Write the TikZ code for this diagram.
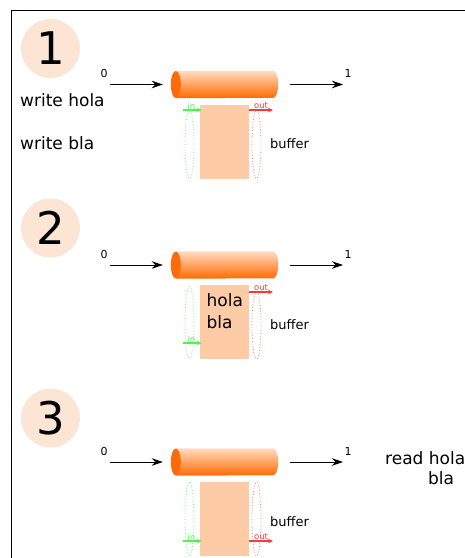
\documentclass[tikz,border=0pt]{standalone}
\usepackage{fontspec}
\setmainfont{DejaVu Sans}
\usetikzlibrary{arrows.meta,positioning}
\definecolor{pbdiscfill}{HTML}{FDE5D5}
\definecolor{pbbuf}     {HTML}{FDCBA5}
\definecolor{pbtop}     {HTML}{FFDCC2}
\definecolor{pbmid}     {HTML}{FFA060}
\definecolor{pbbot}     {HTML}{FF6A00}
\definecolor{pbend}     {HTML}{FF6A0A}
\definecolor{pbin}      {HTML}{4CF54C}
\definecolor{pbout}     {HTML}{FF3838}
\tikzset{
  pbdisc/.style={circle, fill=pbdiscfill, minimum size=59pt, inner sep=0pt,
                 font=\fontsize{45}{50}\selectfont},
  pbpipe/.style={minimum width=107pt, minimum height=27pt, inner sep=0pt},
  pbbuffer/.style={fill=pbbuf, minimum width=49pt, minimum height=74pt, inner sep=0pt},
  pbflow/.style={-{Stealth[length=11pt,width=7.5pt,inset=3.5pt]}, line width=1pt},
  pbinedge/.style={-{Stealth[length=5pt,width=4.5pt]}, draw=pbin, line width=1.2pt},
  pboutedge/.style={-{Stealth[length=5pt,width=4.5pt]}, draw=pbout, line width=1.2pt},
  pbinloop/.style={draw=pbin!80, dotted, line width=0.8pt},
  pboutloop/.style={draw=pbout!70, dotted, line width=0.8pt},
  pbtick/.style={font=\fontsize{11}{13}\selectfont, inner sep=0pt},
  pbtext/.style={font=\fontsize{17}{22}\selectfont, inner sep=0pt, anchor=base west},
  pblabel/.style={font=\fontsize{13}{15}\selectfont, inner sep=0pt, anchor=base west},
  pbtag/.style={font=\fontsize{8.5}{9}\selectfont, inner sep=0.3pt},
}
\begin{document}
\begin{tikzpicture}[x=1pt,y=-1pt]
  \useasboundingbox (0,0) rectangle (465,558);
  \draw[line width=0.8pt] (465,10) -- (11,10) -- (11,558);
  % one panel per step: disc, pipe, buffer, in/out loops
  \foreach \n/\cy/\py/\iy/\oy/\gt/\rt in {1/48.5/84.5/110/110/110/110,
                                          2/228/265/343/292/286/292,
                                          3/418/462/541/541/482/482} {
    \node[pbdisc] (disc\n) at (50.5,\cy) {\n};
    \node[pbpipe] (pipe\n) at (224.5,\py) {};
    \shade[top color=pbtop, middle color=pbmid, bottom color=pbbot]
      ([xshift=5pt]pipe\n.north west) -- ([xshift=-5pt]pipe\n.north east)
      arc[start angle=90, end angle=-90, x radius=5pt, y radius=13.5pt]
      -- ([xshift=5pt]pipe\n.south west) -- cycle;
    \fill[pbend] ([xshift=5pt]pipe\n.west) ellipse[x radius=5pt, y radius=13.5pt];
    \coordinate (src\n) at (110,\py);
    \coordinate (dst\n) at (343,\py);
    \node[pbtick] (zero\n) at (104,\py-11) {0};
    \node[pbtick] (one\n) at (348,\py-11) {1};
    \draw[pbflow] (src\n) -- (pipe\n.west) [shorten >=8pt];
    \draw[pbflow] (pipe\n.east) -- (dst\n) [shorten <=12pt];
    \node[pbbuffer] (buf\n) at (224.5,\py+57) {};
    \node[pblabel] (buflabel\n) at (270,\py+64) {buffer};
    \pgfmathsetmacro\gry{(\py+94-\gt)/2}
    \pgfmathsetmacro\rry{(\py+94-\rt)/2}
    \draw[pbinloop] (189.5,\py+94-\gry) ellipse[x radius=4.5pt, y radius=\gry pt];
    \draw[pboutloop] (256.5,\py+94-\rry) ellipse[x radius=4.5pt, y radius=\rry pt];
    \coordinate (in\n) at (183,\iy);
    \coordinate (out\n) at (273,\oy);
    \draw[pbinedge, shorten >=-2pt] (in\n) -- (in\n -| buf\n.west)
      node[pbtag, midway, above, text=pbin] {in};
    \draw[pboutedge] (out\n -| buf\n.east) -- (out\n)
      node[pbtag, midway, above, text=pbout] {out};
  }
  \node[pbtext] (writehola) at (20,106) {write hola};
  \node[pbtext] (writebla) at (20,149) {write bla};
  \node[pbtext, anchor=north west, align=left] (content) at (206.5,293) {hola\\bla};
  \node[pbtext] (readhola) at (385,464) {read hola};
  \node[pbtext] (readbla) at (428,484) {bla};
\end{tikzpicture}
\end{document}
